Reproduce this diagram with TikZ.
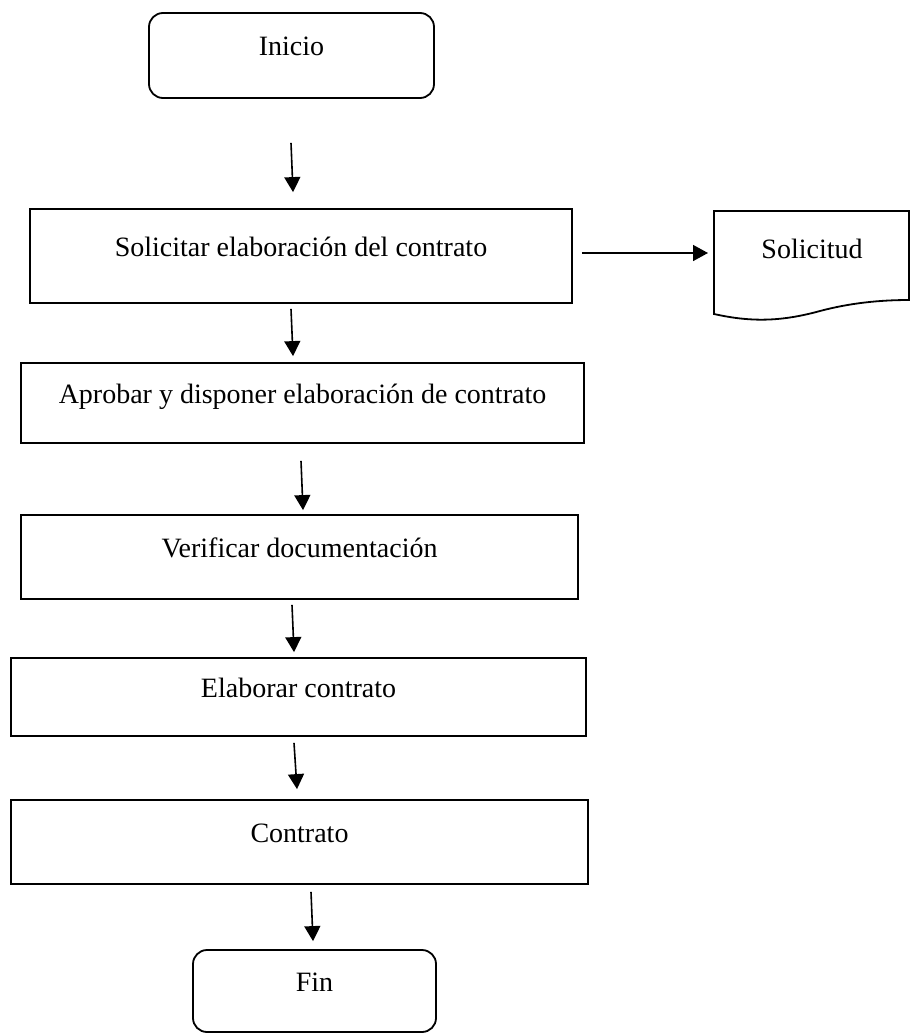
\documentclass[tikz,border=0pt]{standalone}
\usepackage{fontspec}
\setmainfont{Liberation Serif}
\usetikzlibrary{calc,arrows.meta}
\begin{document}
\begin{tikzpicture}[x=1pt,y=-1pt,line width=1.8pt,
  font=\fontsize{28}{34}\selectfont,
  stepbox/.style={draw,rectangle,inner sep=0pt,text height=0pt,text depth=0pt},
  termbox/.style={stepbox,rounded corners=14pt},
  plain/.style={inner sep=0pt,text height=0pt,text depth=0pt},
  arr/.style={-{Triangle[length=15pt,width=16pt]},line width=1.6pt}]
\useasboundingbox (0,0) rectangle (910,1036);

% process boxes
\node[termbox,minimum width=285pt,minimum height=85pt] (ini) at (291.5,55.5) {Inicio};
\node[stepbox,minimum width=542pt,minimum height=94pt] (sol) at (301,256) {Solicitar elaboración del contrato};
\node[stepbox,minimum width=563pt,minimum height=80pt] (apr) at (302.5,403) {Aprobar y disponer elaboración de contrato};
\node[stepbox,minimum width=557pt,minimum height=84pt] (ver) at (299.5,557) {Verificar documentación};
\node[stepbox,minimum width=575pt,minimum height=78pt] (ela) at (298.5,697) {Elaborar contrato};
\node[stepbox,minimum width=577pt,minimum height=84pt] (con) at (299.5,842) {Contrato};
\node[termbox,minimum width=243pt,minimum height=82pt] (fin) at (314.5,991) {Fin};

% document symbol
\draw (909,211) -- (714,211) -- (714,314)
  .. controls (750,322) and (780,322) .. (820,311)
  .. controls (850,303) and (880,300) .. (909,300) -- cycle;
\coordinate (docw) at (714,253);
\node[plain] (doc) at (812,258) {Solicitud};

% connectors
\draw[arr] ($(ini.south)+(-0.5,44)$) -- ($(sol.north)+(-8,-16)$);
\draw[arr] ($(sol.east)+(9,-3)$) -- ($(docw)+(-6,0)$);
\draw[arr] ($(sol.south)+(-10,5)$) -- ($(apr.north)+(-9.5,-6)$);
\draw[arr] ($(apr.south)+(-1.5,17)$) -- ($(ver.north)+(3.5,-4)$);
\draw[arr] ($(ver.south)+(-7.5,5)$) -- ($(ela.north)+(-4.5,-5)$);
\draw[arr] ($(ela.south)+(-4.5,6)$) -- ($(con.north)+(-2.5,-10)$);
\draw[arr] ($(con.south)+(11.5,7)$) -- ($(fin.north)+(-1.5,-8)$);
\end{tikzpicture}
\end{document}
